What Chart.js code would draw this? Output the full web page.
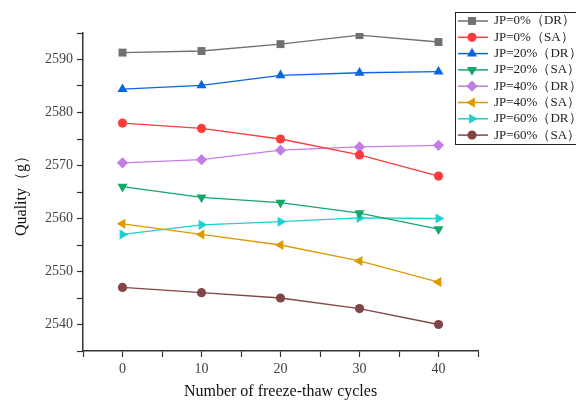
<!DOCTYPE html>
<html>
<head>
<meta charset="utf-8">
<script src="https://cdn.jsdelivr.net/npm/chart.js@4.4.1/dist/chart.umd.min.js"></script>
<style>
  html, body { margin: 0; padding: 0; background: #fff; }
</style>
</head>
<body>
<canvas id="chart" width="576" height="401"></canvas>
<script>
// freeze-thaw cycles on the x axis
const cycles = [0, 10, 20, 30, 40];

// quality (g) per series
const jp0DR  = [2591.3, 2591.6, 2592.9, 2594.6, 2593.3];
const jp0SA  = [2578.0, 2577.0, 2575.0, 2572.0, 2568.0];
const jp20DR = [2584.4, 2585.1, 2587.0, 2587.5, 2587.7];
const jp20SA = [2566.0, 2564.0, 2563.0, 2561.0, 2558.0];
const jp40DR = [2570.5, 2571.1, 2572.9, 2573.5, 2573.8];
const jp40SA = [2559.0, 2557.0, 2555.0, 2552.0, 2548.0];
const jp60DR = [2557.0, 2558.8, 2559.4, 2560.1, 2560.0];
const jp60SA = [2547.0, 2546.0, 2545.0, 2543.0, 2540.0];

const yMin = 2535, yMax = 2595, yStep = 5;
const xMin = -5, xMax = 45, xStep = 5;

const FONT = '"Liberation Serif", "Times New Roman", serif';
Chart.defaults.font.family = FONT;
Chart.defaults.color = '#444';

const toPoints = (vals) => vals.map((v, i) => ({ x: cycles[i], y: v }));

const makeSeries = (label, vals, color, style, rotation, radius) => ({
  label: label,
  data: toPoints(vals),
  borderColor: color,
  backgroundColor: color,
  pointBackgroundColor: color,
  pointBorderColor: color,
  pointBorderWidth: 0,
  pointStyle: style,
  pointRotation: rotation,
  pointRadius: radius,
  borderWidth: 1.3,
  tension: 0,
});

const datasets = [
  makeSeries('JP=0%（DR）',  jp0DR,  '#707070', 'rect', 0, 5.6),
  makeSeries('JP=0%（SA）',  jp0SA,  '#fa3c3c', 'circle', 0, 4.6),
  makeSeries('JP=20%（DR）', jp20DR, '#0a66e0', 'triangle', 0, 5.8),
  makeSeries('JP=20%（SA）', jp20SA, '#12a868', 'triangle', 180, 5.8),
  makeSeries('JP=40%（DR）', jp40DR, '#c47de6', 'rectRot', 0, 5.6),
  makeSeries('JP=40%（SA）', jp40SA, '#df9a00', 'triangle', -90, 5.8),
  makeSeries('JP=60%（DR）', jp60DR, '#20cfd0', 'triangle', 90, 5.8),
  makeSeries('JP=60%（SA）', jp60SA, '#804545', 'circle', 0, 4.6),
];

// boxed legend sitting over the top right corner
const boxLegend = {
  id: 'boxLegend',
  afterDraw(chart) {
    const ctx = chart.ctx;
    const x0 = 455, y0 = 12, rowH = 16.3;
    ctx.save();
    ctx.strokeStyle = '#222';
    ctx.lineWidth = 1;
    ctx.strokeRect(x0 + 0.5, y0 + 0.5, 140, 132);
    chart.data.datasets.forEach((ds, i) => {
      const y = y0 + 9 + i * rowH;
      ctx.strokeStyle = ds.borderColor;
      ctx.lineWidth = 1.5;
      ctx.beginPath();
      ctx.moveTo(x0 + 3, y);
      ctx.lineTo(x0 + 33, y);
      ctx.stroke();
      ctx.fillStyle = ds.pointBackgroundColor;
      Chart.helpers.drawPoint(ctx, {
        pointStyle: ds.pointStyle,
        rotation: ds.pointRotation,
        radius: ds.pointRadius,
        borderWidth: 0,
      }, x0 + 17, y);
      ctx.fillStyle = '#222';
      ctx.font = '13px ' + FONT;
      ctx.textBaseline = 'middle';
      ctx.textAlign = 'left';
      ctx.fillText(ds.label, x0 + 39, y);
    });
    ctx.restore();
  },
};

new Chart(document.getElementById('chart'), {
  type: 'line',
  data: { datasets: datasets },
  plugins: [boxLegend],
  options: {
    responsive: false,
    animation: false,
    devicePixelRatio: 1,
    layout: { padding: { top: 33, right: 98, left: 0, bottom: 0 } },
    plugins: {
      legend: { display: false },
      tooltip: { enabled: false },
    },
    scales: {
      x: {
        type: 'linear',
        min: xMin,
        max: xMax,
        afterFit(scale) { scale.height = 50; },
        ticks: {
          stepSize: xStep,
          autoSkip: false,
          maxRotation: 0,
          padding: 4,
          color: '#444',
          font: { size: 14 },
          callback: (v) => (v % 10 === 0 && v >= 0 && v <= 40 ? v : ''),
        },
        grid: { drawOnChartArea: false, drawTicks: true, tickLength: 6, tickColor: '#333', tickWidth: 1.2 },
        border: { display: true, color: '#333', width: 1.5 },
        title: {
          display: true,
          text: 'Number of freeze-thaw cycles',
          color: '#111',
          font: { size: 16 },
          padding: { top: 0, bottom: 0 },
        },
      },
      y: {
        min: yMin,
        max: yMax,
        afterFit(scale) { scale.width = 83; },
        ticks: {
          stepSize: yStep,
          autoSkip: false,
          padding: 4,
          color: '#444',
          font: { size: 14 },
          callback: (v) => (v % 10 === 0 && v > yMin && v < yMax ? v : ''),
        },
        grid: { drawOnChartArea: false, drawTicks: true, tickLength: 6, tickColor: '#333', tickWidth: 1.2 },
        border: { display: true, color: '#333', width: 1.5 },
        title: {
          display: true,
          text: 'Quality（g）',
          color: '#111',
          font: { size: 16 },
          padding: { top: 12, bottom: 0 },
        },
      },
    },
  },
});
</script>
</body>
</html>
